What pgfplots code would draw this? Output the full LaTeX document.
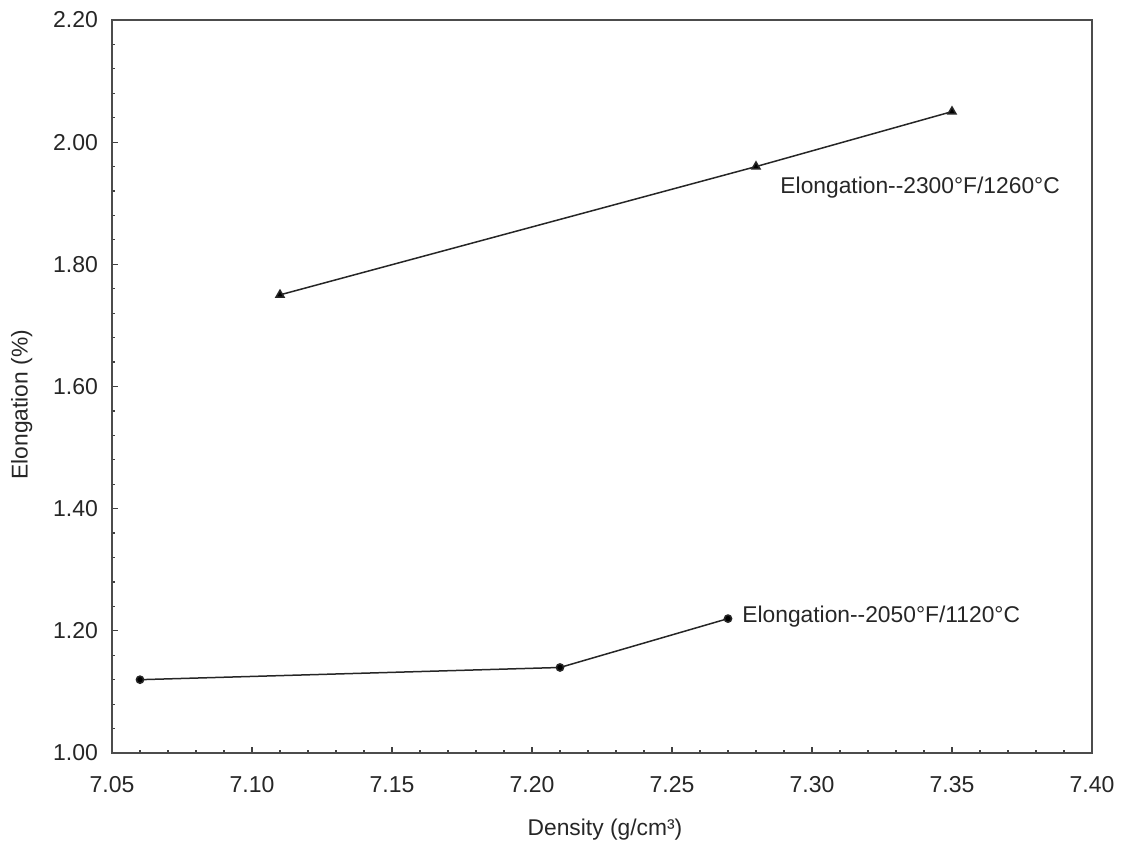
\documentclass[border=0pt]{standalone}
\usepackage{fontspec}
\setmainfont{Liberation Sans}
\usepackage{pgfplots}
\pgfplotsset{compat=1.18}
\begin{document}
\begin{tikzpicture}
\begin{axis}[
  scale only axis,
  width=490pt, height=366.5pt,
  xmin=7.05, xmax=7.40, ymin=1.00, ymax=2.20,
  xtick={7.05,7.10,7.15,7.20,7.25,7.30,7.35,7.40},
  ytick={1.00,1.20,1.40,1.60,1.80,2.00,2.20},
  minor x tick num=4, minor y tick num=4,
  tick align=inside,
  xtick pos=left, ytick pos=left,
  major tick length=3pt, minor tick length=1.5pt,
  tick style={black!75, line width=0.6pt},
  axis line style={black!70, line width=1pt},
  /pgf/number format/assume math mode=true,
  xticklabel style={/pgf/number format/.cd, fixed, fixed zerofill, precision=2, /tikz/.cd, anchor=base, yshift=-20pt},
  yticklabel style={/pgf/number format/.cd, fixed, fixed zerofill, precision=2, /tikz/.cd, xshift=-3.5pt},
  ticklabel style={font=\fontsize{11.5}{13.5}\selectfont, text=black!85},
  label style={font=\fontsize{11.4}{13.5}\selectfont, text=black!85},
  xlabel={Density (g/cm³)},
  ylabel={Elongation (\%)},
  xlabel style={at={(axis description cs:0.503,-0.105)}, anchor=center},
  ylabel style={at={(axis description cs:-0.092,0.475)}, anchor=center},
  clip=false,
]
\addplot[black!85, line width=0.75pt, mark=triangle*, mark size=2.3pt, mark options={solid, fill=black}] coordinates {
  (7.11,1.75) (7.28,1.96) (7.35,2.05)
};
\addplot[black!85, line width=0.75pt, mark=*, mark size=1.8pt, mark options={solid, fill=black}] coordinates {
  (7.06,1.12) (7.21,1.14) (7.27,1.22)
};
\node[anchor=west, inner sep=0pt, font=\fontsize{11.4}{13.5}\selectfont, text=black!85] at (axis cs:7.2886,1.925) {Elongation-{}-2300°F/1260°C};
\node[anchor=west, inner sep=0pt, font=\fontsize{11.4}{13.5}\selectfont, text=black!85] at (axis cs:7.275,1.223) {Elongation-{}-2050°F/1120°C};
\end{axis}
\path ([xshift=-56pt,yshift=-48.5pt]current axis.south west) rectangle ([xshift=16.5pt,yshift=10pt]current axis.north east);
\end{tikzpicture}
\end{document}
